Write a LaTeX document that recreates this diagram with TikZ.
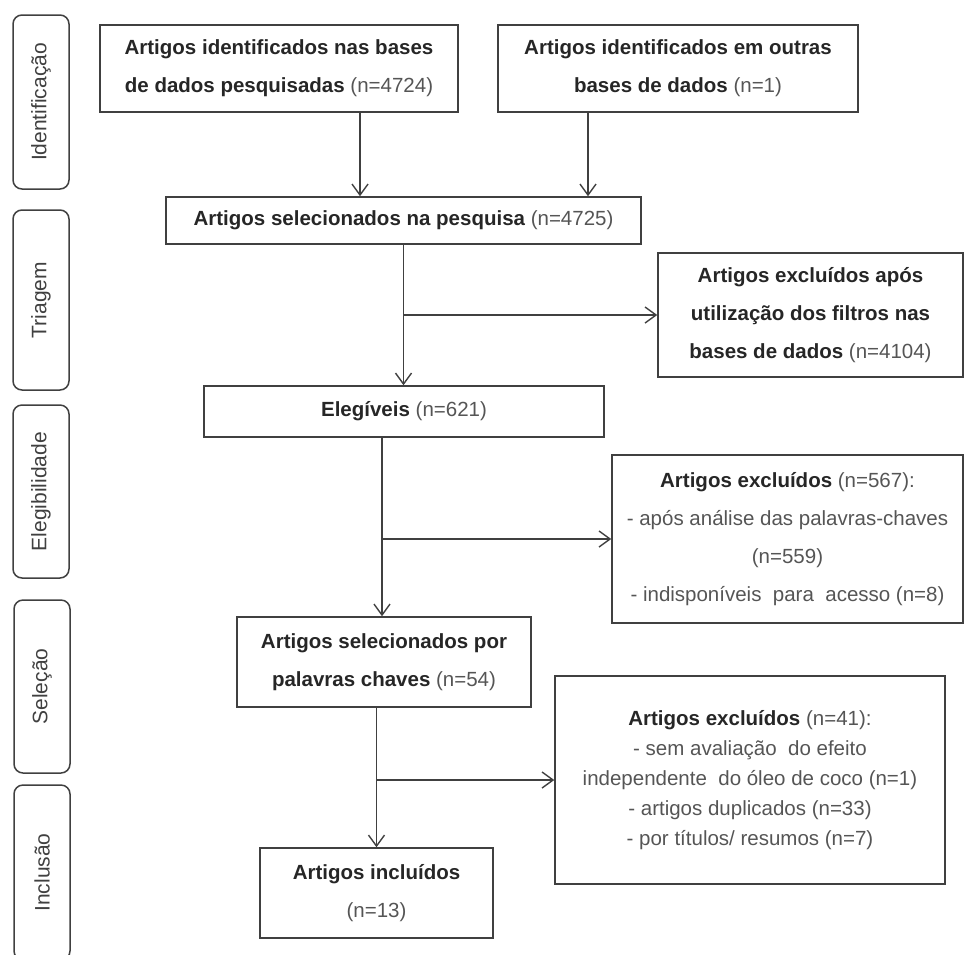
\documentclass[tikz,border=0pt]{standalone}
\usepackage{fontspec}
\setmainfont{Liberation Sans}
\usepackage{tikz}
\usetikzlibrary{arrows.meta}
\definecolor{boxgray}{HTML}{404040}
\definecolor{textgray}{HTML}{262626}
\definecolor{ngray}{HTML}{555555}
\tikzset{mybox/.style={draw=boxgray,line width=1.5pt,rectangle,align=center,inner sep=0pt,text=textgray,font=\fontsize{20.5}{38}\selectfont\bfseries},
mylistbox/.style={mybox,font=\fontsize{20.5}{30}\selectfont\bfseries},
myphase/.style={draw=boxgray,line width=1.5pt,rounded corners=9pt,rotate=90,minimum height=56pt,inner sep=0pt,text=boxgray,font=\fontsize{21}{25}\selectfont},
myarrow/.style={draw=boxgray,line width=1.4pt,-{Straight Barb[length=11pt,width=16pt,line width=1.4pt]}}}
\newcommand{\ncount}[1]{{\mdseries\color{ngray}#1}}

\begin{document}
\begin{tikzpicture}[x=1pt,y=-1pt]
\useasboundingbox (0,0) rectangle (965,954);
\clip (0,0) rectangle (965,954);
% fases
\node[myphase,minimum width=174pt] (fase1) at (41,102) {Identificação};
\node[myphase,minimum width=180pt] (fase2) at (41,300) {Triagem};
\node[myphase,minimum width=173pt] (fase3) at (41,491.5) {Elegibilidade};
\node[myphase,minimum width=173pt] (fase4) at (42,686.5) {Seleção};
\node[myphase,minimum width=175pt] (fase5) at (42,872.5) {Inclusão};
% caixas
\node[mybox,minimum width=358pt,minimum height=87pt] (ident1) at (279,68.5) {Artigos identificados nas bases\\de dados pesquisadas \ncount{(n=4724)}};
\node[mybox,minimum width=360pt,minimum height=87pt] (ident2) at (678,68.5) {Artigos identificados em outras\\bases de dados \ncount{(n=1)}};
\node[mybox,minimum width=475pt,minimum height=47pt] (selpesq) at (403.5,220.5) {Artigos selecionados na pesquisa \ncount{(n=4725)}};
\node[mybox,minimum width=305pt,minimum height=124pt] (exclfilt) at (810.5,315) {Artigos excluídos após\\utilização dos filtros nas\\bases de dados \ncount{(n=4104)}};
\node[mybox,minimum width=400pt,minimum height=51pt] (eleg) at (404,411.5) {Elegíveis \ncount{(n=621)}};
\node[mybox,minimum width=351pt,minimum height=168pt] (exclpal) at (787.5,539) {Artigos excluídos \ncount{(n=567):}\\\ncount{- após análise das palavras-chaves}\\\ncount{(n=559)}\\\ncount{- indisponíveis\ \ para\ \ acesso (n=8)}};
\node[mybox,minimum width=294pt,minimum height=90pt] (selpal) at (384,662) {Artigos selecionados por\\palavras chaves \ncount{(n=54)}};
\node[mylistbox,minimum width=390pt,minimum height=208pt] (exclcoco) at (750,780) {Artigos excluídos \ncount{(n=41):}\\\ncount{- sem avaliação\ \ do efeito}\\\ncount{independente\ \ do óleo de coco (n=1)}\\\ncount{- artigos duplicados (n=33)}\\\ncount{- por títulos/ resumos (n=7)}};
\node[mybox,minimum width=233pt,minimum height=90pt] (incl) at (376.5,893) {Artigos incluídos\\\ncount{(n=13)}};
% setas
\coordinate (c1) at (360,0);
\coordinate (c2) at (588,0);
\coordinate (c3) at (382,0);
\draw[myarrow] (c1 |- ident1.south) -- (c1 |- selpesq.north);
\draw[myarrow] (c2 |- ident2.south) -- (c2 |- selpesq.north);
\draw[myarrow] (selpesq.south) -- (selpesq.south |- eleg.north);
\draw[myarrow] (selpesq.south |- exclfilt.west) -- (exclfilt.west);
\draw[myarrow] (c3 |- eleg.south) -- (c3 |- selpal.north);
\draw[myarrow] (c3 |- exclpal.west) -- (exclpal.west);
\draw[myarrow] (incl.north |- selpal.south) -- (incl.north);
\draw[myarrow] (incl.north |- exclcoco.west) -- (exclcoco.west);
\end{tikzpicture}
\end{document}
